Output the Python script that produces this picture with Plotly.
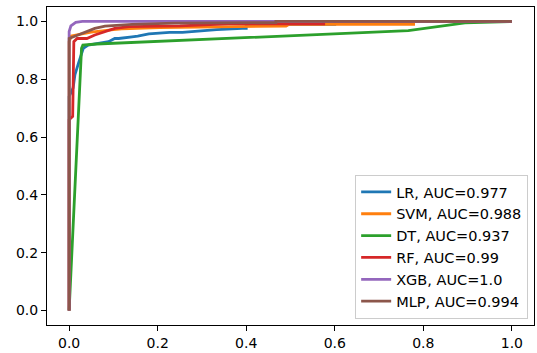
import plotly.graph_objects as go

# ROC curve points (false positive rate, true positive rate)
lr_fpr = [0.0, 0.0, 0.009, 0.013, 0.021, 0.025, 0.032, 0.043, 0.081, 0.089, 0.103, 0.112, 0.142, 0.155, 0.18, 0.227, 0.256, 0.333, 0.391, 0.40, 0.40, 0.60, 0.60, 1.0]
lr_tpr = [0.0, 0.74, 0.77, 0.815, 0.855, 0.873, 0.907, 0.918, 0.93, 0.93, 0.941, 0.941, 0.947, 0.949, 0.957, 0.962, 0.962, 0.972, 0.976, 0.976, 0.99, 0.99, 1.0, 1.0]

svm_fpr = [0.0, 0.0, 0.005, 0.02, 0.05, 0.10, 0.119, 0.204, 0.35, 0.49, 0.497, 0.778, 0.778, 1.0]
svm_tpr = [0.0, 0.93, 0.95, 0.955, 0.963, 0.972, 0.974, 0.979, 0.982, 0.984, 0.99, 0.99, 1.0, 1.0]

dt_fpr = [0.0, 0.028, 0.031, 0.062, 0.766, 0.83, 0.894, 1.0]
dt_tpr = [0.0, 0.907, 0.918, 0.922, 0.968, 0.982, 0.995, 1.0]

rf_fpr = [0.0, 0.0, 0.008, 0.0106, 0.018, 0.04, 0.058, 0.081, 0.103, 0.135, 0.25, 0.36, 0.575, 0.575, 1.0]
rf_tpr = [0.0, 0.66, 0.672, 0.93, 0.941, 0.941, 0.953, 0.964, 0.976, 0.982, 0.985, 0.992, 0.992, 1.0, 1.0]

xgb_fpr = [0.0, 0.0, 0.004, 0.015, 0.03, 1.0]
xgb_tpr = [0.0, 0.965, 0.985, 0.997, 1.0, 1.0]

mlp_fpr = [0.0, 0.0, 0.01, 0.029, 0.058, 0.081, 0.103, 0.142, 0.238, 0.467, 0.467, 1.0]
mlp_tpr = [0.0, 0.941, 0.947, 0.959, 0.976, 0.984, 0.987, 0.99, 0.994, 0.996, 1.0, 1.0]

names = ["LR, AUC=0.977", "SVM, AUC=0.988", "DT, AUC=0.937",
         "RF, AUC=0.99", "XGB, AUC=1.0", "MLP, AUC=0.994"]
colors = ["#1f77b4", "#ff7f0e", "#2ca02c", "#d62728", "#9467bd", "#8c564b"]
series = [(lr_fpr, lr_tpr), (svm_fpr, svm_tpr), (dt_fpr, dt_tpr),
          (rf_fpr, rf_tpr), (xgb_fpr, xgb_tpr), (mlp_fpr, mlp_tpr)]

tick_vals = [0.0, 0.2, 0.4, 0.6, 0.8, 1.0]
tick_text = ["0.0", "0.2", "0.4", "0.6", "0.8", "1.0"]

fig = go.Figure()
for (fx, ty), name, c in zip(series, names, colors):
    fig.add_trace(go.Scatter(x=fx, y=ty, mode="lines", name=name,
                             line=dict(color=c, width=2.8)))

axis_style = dict(
    showgrid=False, zeroline=False, showline=True, mirror=True,
    linecolor="black", linewidth=1, ticks="outside", ticklen=5,
    tickwidth=1, tickcolor="black", tickvals=tick_vals, ticktext=tick_text,
    tickfont=dict(family="DejaVu Sans", size=14, color="black"),
)

fig.update_layout(
    width=537, height=353,
    margin=dict(l=47, r=2, t=7, b=25),
    paper_bgcolor="white", plot_bgcolor="white",
    xaxis=dict(range=[-0.05, 1.05], **axis_style),
    yaxis=dict(range=[-0.05, 1.05], **axis_style),
    legend=dict(
        x=0.988, y=0.019, xanchor="right", yanchor="bottom",
        bgcolor="rgba(255,255,255,0.8)", bordercolor="#cccccc", borderwidth=1,
        font=dict(family="DejaVu Sans", size=14.5, color="black"),
        itemwidth=30,
    ),
    showlegend=True,
)

fig.write_html(
    "out.html",
    config={"displayModeBar": False},
    post_script="document.body.style.margin='0';document.body.style.padding='0';",
)
